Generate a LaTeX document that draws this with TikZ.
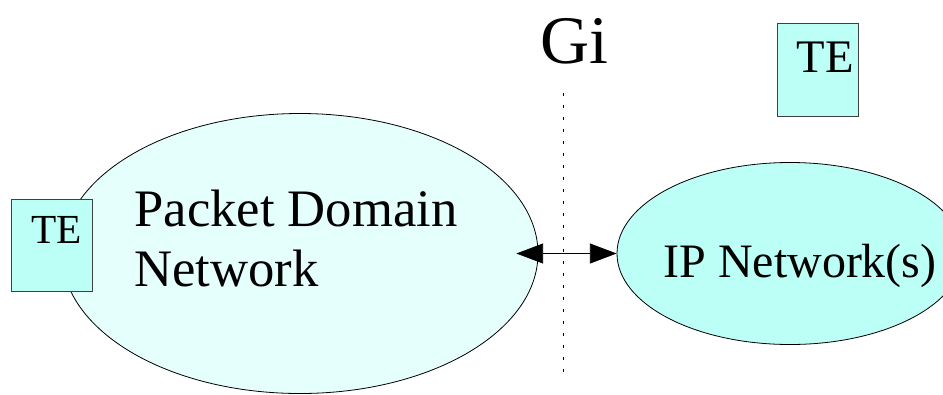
\documentclass[tikz,border=0pt]{standalone}
\usepackage{fontspec}
\setmainfont{Liberation Serif}
\usetikzlibrary{positioning, arrows.meta, shapes.geometric}
\definecolor{pdnfill}{RGB}{229,255,253}
\definecolor{tefill}{RGB}{187,255,247}
\tikzset{
    netellipse/.style={draw, ellipse, line width=0.6pt, inner sep=0pt},
    tebox/.style={draw=black!75, fill=tefill, line width=0.6pt, minimum width=60.75pt, minimum height=69pt, inner sep=0pt},
    tetext/.style={font=\fontsize{31}{37}\selectfont, inner sep=0pt},
    bigtext/.style={font=\fontsize{39.5}{45}\selectfont, inner sep=0pt},
}

\begin{document}
\begin{tikzpicture}[x=0.75pt, y=-0.75pt]
    \useasboundingbox (0,0) rectangle (943,394);
    % Networks
    \node (PDN) [netellipse, fill=pdnfill, minimum width=357pt, minimum height=210pt, label={[bigtext, align=left, xshift=-3pt, yshift=11pt]center:Packet Domain\\Network}] at (300,253.5) {};
    \node (IP) [netellipse, fill=tefill, minimum width=259.5pt, minimum height=136.5pt, label={[bigtext, font=\fontsize{36}{43}\selectfont, xshift=7.5pt, yshift=-9pt]center:IP Network(s)}] at (790,253.5) {};
    % Terminals
    \node (TEleft) [tebox, label={[tetext, xshift=4.1pt, yshift=11.2pt]center:TE}] at (51.5,245) {};
    \node (TEright) [tebox, minimum height=69.75pt, label={[tetext, font=\fontsize{35}{42}\selectfont, xshift=5.6pt, yshift=9pt]center:TE}] at (818,69.5) {};
    % Reference point
    \node (Gi) [font=\fontsize{51}{60}\selectfont, inner sep=0pt] at (574,41.5) {Gi};
    \coordinate (Gitop) at (563,93);
    \coordinate (Gibot) at (563,380);
    \draw [line width=0.5pt, dash pattern=on 2pt off 7pt] (Gitop) -- (Gibot);
    \draw [line width=0.6pt, {Triangle[length=20pt, width=15pt]}-{Triangle[length=20pt, width=15pt]}, shorten <=-16.5pt] (PDN.east) -- (IP.west);
\end{tikzpicture}
\end{document}
